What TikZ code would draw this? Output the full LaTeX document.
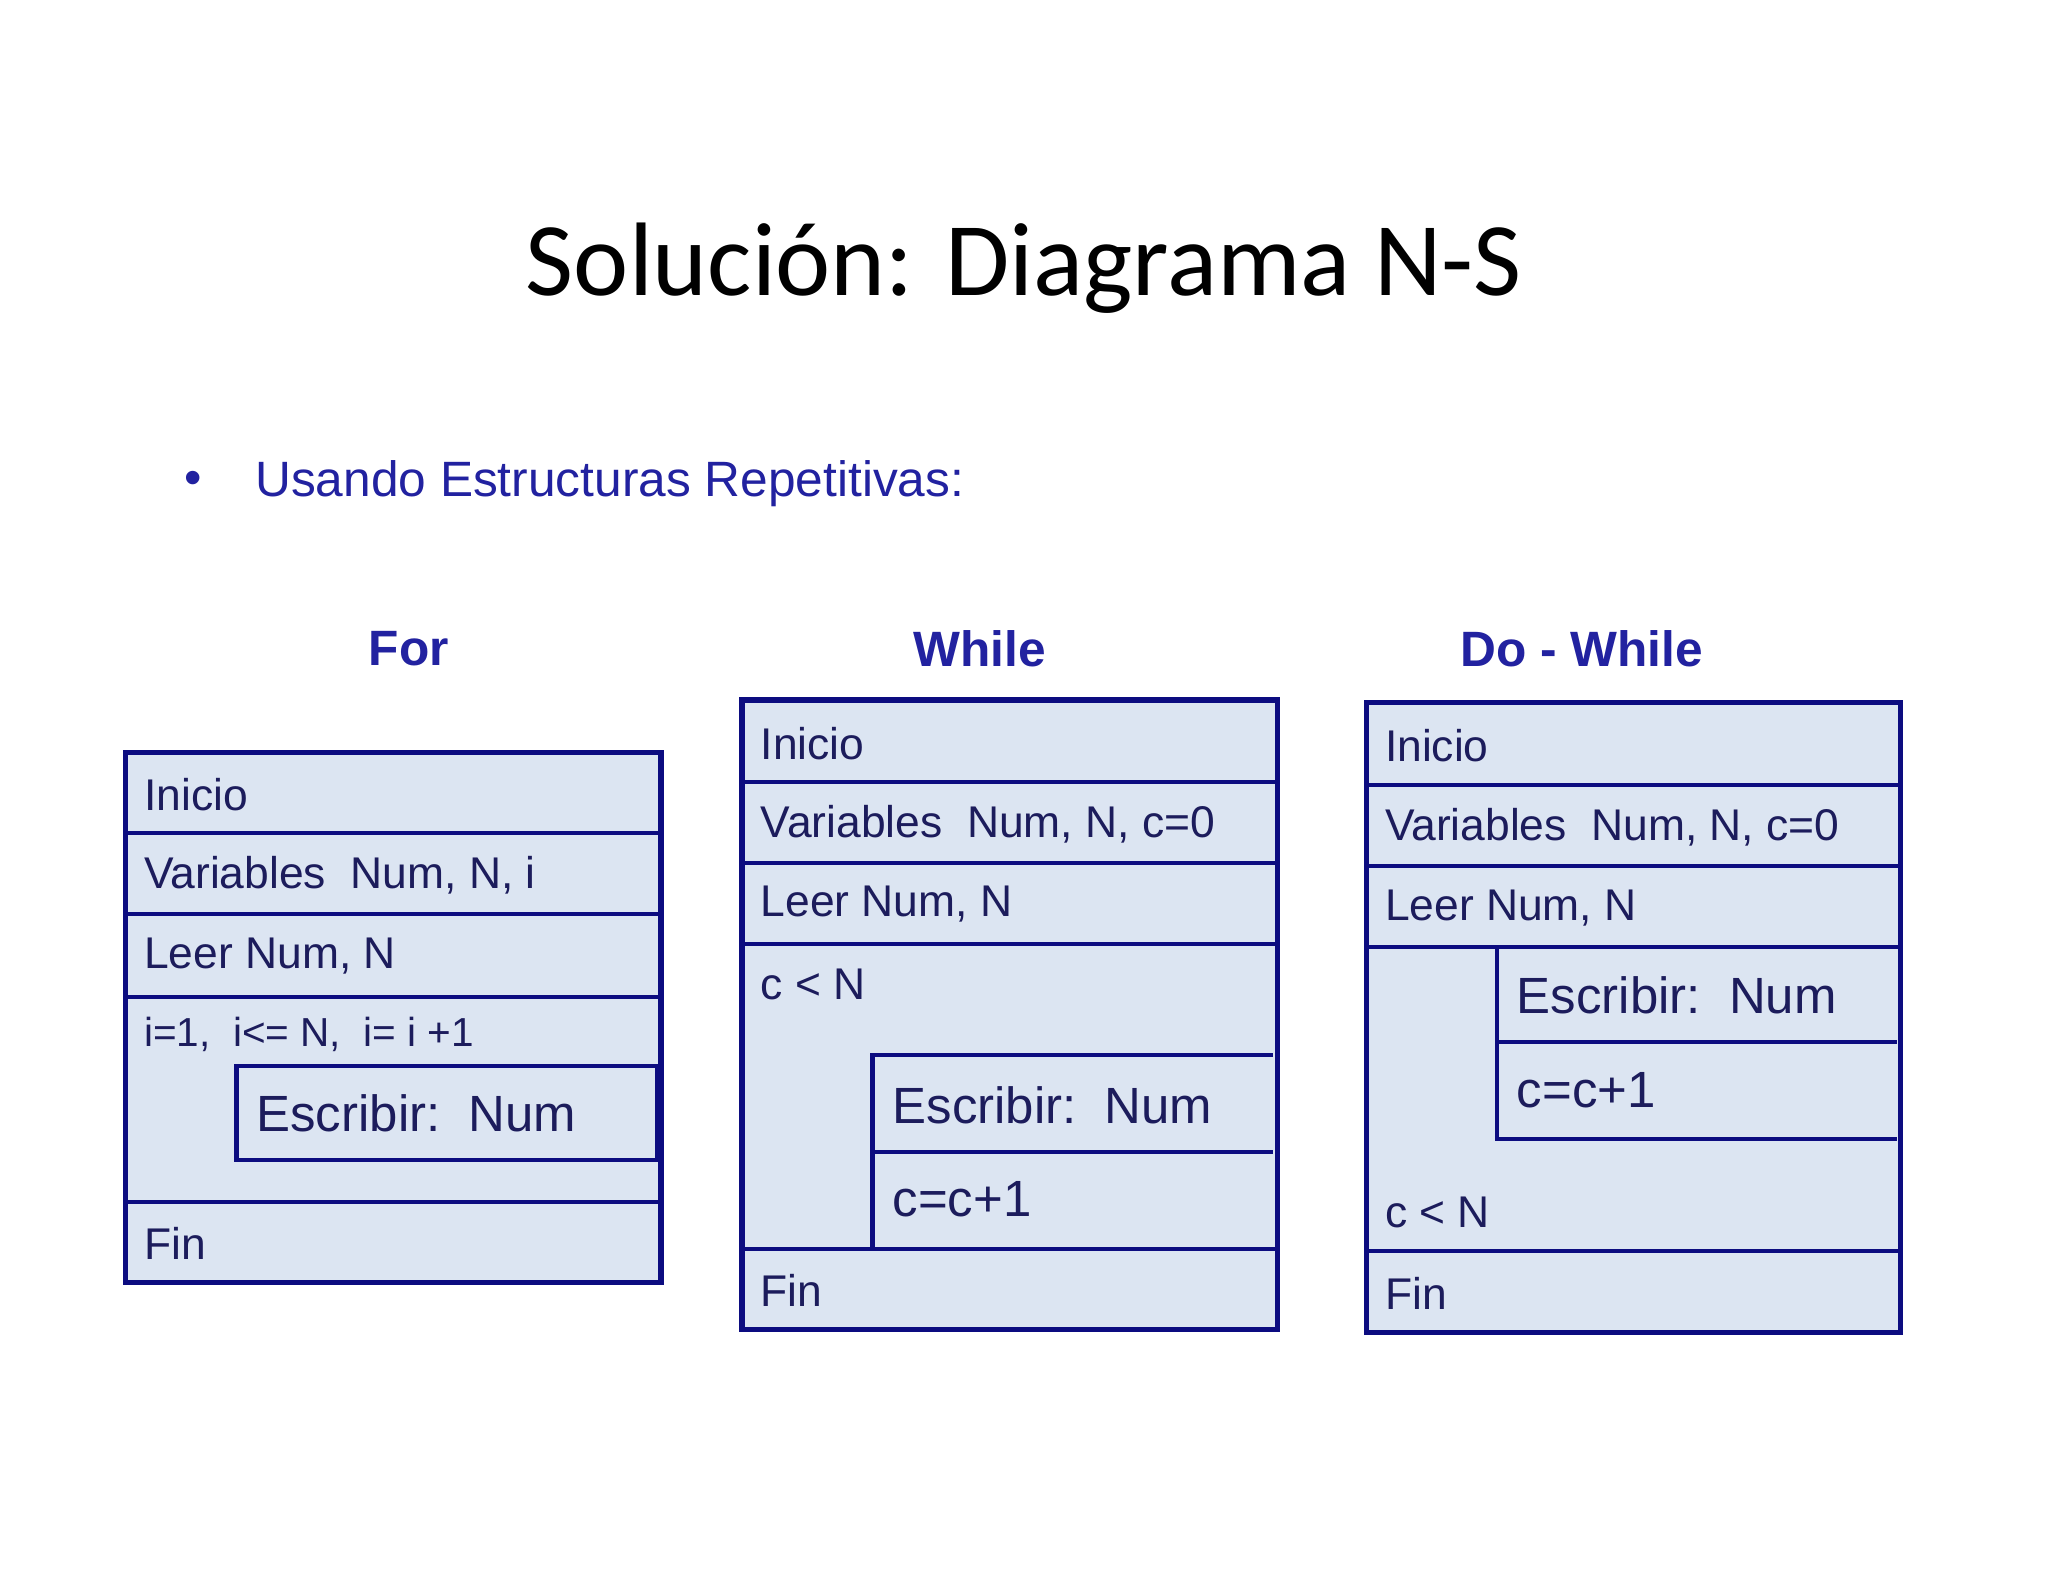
\documentclass[tikz,border=0pt]{standalone}
\usepackage{fontspec}
\setmainfont{Liberation Sans}
\newfontfamily\titlefont{Carlito}
\definecolor{navy}{HTML}{0C0C80}
\definecolor{boxfill}{HTML}{DCE5F2}
\definecolor{txt}{HTML}{1C1C5C}
\definecolor{blu}{HTML}{2222A0}
\begin{document}
\begin{tikzpicture}[x=0.5pt,y=-0.5pt,
  frame/.style={draw=navy,line width=2pt,fill=boxfill},
  sep/.style={draw=navy,line width=1.6pt},
  lbl/.style={anchor=west,inner sep=0pt,text=txt,font=\fontsize{17}{17}\selectfont},
  big/.style={anchor=west,inner sep=0pt,text=txt,font=\fontsize{19.5}{19.5}\selectfont},
  hdr/.style={text=blu,font=\bfseries\fontsize{19}{19}\selectfont}]
\useasboundingbox[fill=white] (0,0) rectangle (1568,1211);
\node[font=\titlefont\fontsize{40}{40}\selectfont] (title) at (784,205) {Solución: Diagrama N-S};
\node[text=blu,font=\fontsize{19}{19}\selectfont] (bul) at (148,370) {•};
\node[anchor=west,text=blu,font=\fontsize{19}{19}\selectfont,inner sep=0pt] (sub) at (195,370) {Usando Estructuras Repetitivas:};
\node[hdr] (hfor) at (313,497) {For};
\node[hdr] (hwh) at (750,497) {While};
\node[hdr] (hdw) at (1211,497) {Do - While};
% For
\draw[frame] (96,576) rectangle (506,982);
\draw[sep] (96,638)--(506,638) (96,700)--(506,700) (96,763)--(506,763) (96,920)--(506,920);
\draw[sep] (181,816) rectangle (503,888);
\node[lbl] (f1) at (110,608) {Inicio};
\node[lbl] (f2) at (110,670) {Variables\ \ Num, N, i};
\node[lbl] (f3) at (110,732) {Leer Num, N};
\node[lbl,font=\fontsize{15.5}{15.5}\selectfont] (f4) at (110,792) {i=1,\ \ i<= N,\ \ i= i +1};
\node[big] (f5) at (196,852) {Escribir:\ \ Num};
\node[lbl] (f6) at (110,952) {Fin};
% While
\draw[frame] (568,536) rectangle (978,1018);
\draw[sep] (568,599)--(978,599) (568,661)--(978,661) (568,723)--(978,723) (568,956)--(978,956);
\draw[sep] (668,956)--(668,808)--(975,808) (668,882)--(975,882);
\node[lbl] (w1) at (582,569) {Inicio};
\node[lbl] (w2) at (582,631) {Variables\ \ Num, N, c=0};
\node[lbl] (w3) at (582,692) {Leer Num, N};
\node[lbl] (w4) at (582,754) {c < N};
\node[big] (w5) at (683,846) {Escribir:\ \ Num};
\node[big] (w6) at (683,918) {c=c+1};
\node[lbl] (w7) at (582,988) {Fin};
% Do-While
\draw[frame] (1046,538) rectangle (1455,1020);
\draw[sep] (1046,601)--(1455,601) (1046,663)--(1455,663) (1046,725)--(1455,725) (1046,958)--(1455,958);
\draw[sep] (1146,725)--(1146,872)--(1452,872) (1146,798)--(1452,798);
\node[lbl] (d1) at (1060,571) {Inicio};
\node[lbl] (d2) at (1060,633) {Variables\ \ Num, N, c=0};
\node[lbl] (d3) at (1060,695) {Leer Num, N};
\node[big] (d4) at (1161,762) {Escribir:\ \ Num};
\node[big] (d5) at (1161,835) {c=c+1};
\node[lbl] (d6) at (1060,928) {c < N};
\node[lbl] (d7) at (1060,990) {Fin};
\end{tikzpicture}
\end{document}
